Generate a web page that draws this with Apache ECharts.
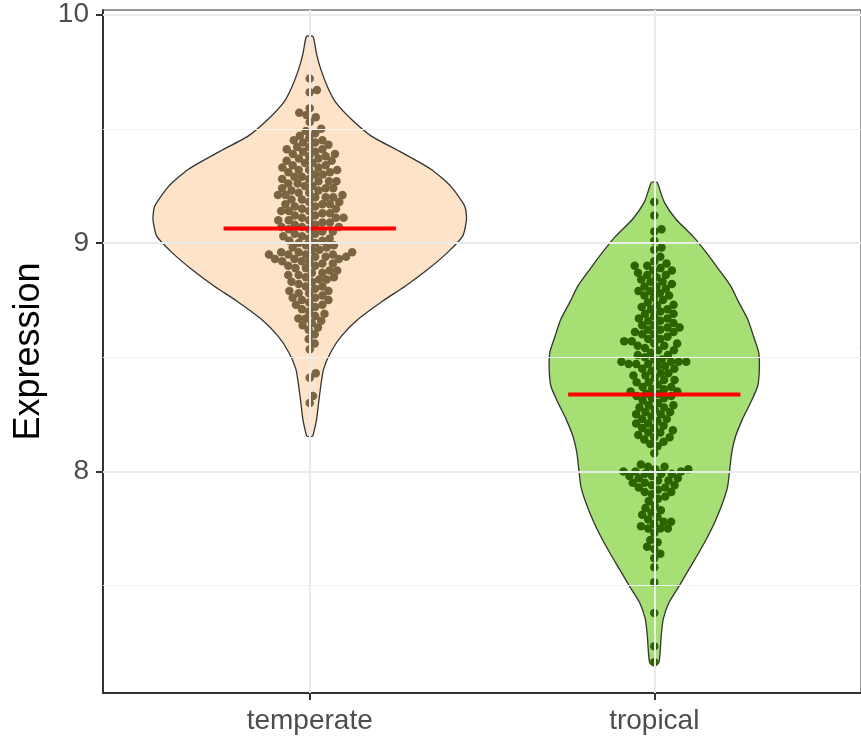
<!DOCTYPE html>
<html><head><meta charset="utf-8">
<script src="https://cdn.jsdelivr.net/npm/echarts@6/dist/echarts.min.js"></script>
<style>html,body{margin:0;padding:0;background:#fff}#c{width:861px;height:742px}</style>
</head><body><div id="c"></div>
<script>
// ---------------- data ----------------
const categories = ['temperate', 'tropical'];
const meanValues = [9.063, 8.337];

const temperateValues = [
  9.72, 9.67, 9.66, 9.59, 9.57, 9.56, 9.55, 9.53, 9.50, 9.45,
  9.49, 9.48, 9.47, 9.46, 9.45, 9.44, 9.44, 9.43, 9.42, 9.42, 9.41, 9.41, 9.40, 9.40,
  9.39, 9.39, 9.38, 9.38, 9.37, 9.37, 9.36, 9.36, 9.35, 9.35, 9.34, 9.34, 9.33, 9.33, 9.32, 9.32, 9.32, 9.31, 9.31, 9.30, 9.30, 9.29,
  9.29, 9.28, 9.28, 9.27, 9.27, 9.27, 9.26, 9.26, 9.25, 9.25, 9.24, 9.24, 9.24, 9.23, 9.23, 9.22, 9.22, 9.21, 9.21, 9.21, 9.20, 9.20, 9.20, 9.19, 9.19,
  9.18, 9.18, 9.17, 9.17, 9.17, 9.16, 9.16, 9.15, 9.15, 9.14, 9.14, 9.14, 9.13, 9.13, 9.12, 9.12, 9.11, 9.11, 9.11, 9.10, 9.10, 9.10, 9.09, 9.09,
  9.08, 9.08, 9.07, 9.07, 9.07, 9.06, 9.06, 9.05, 9.05, 9.04, 9.04, 9.03, 9.03, 9.02, 9.02, 9.01, 9.01, 9.00, 9.00, 8.99, 8.99,
  8.98, 8.98, 8.97, 8.97, 8.96, 8.96, 8.96, 8.95, 8.95, 8.95, 8.95, 8.94, 8.94, 8.94, 8.93, 8.93, 8.93, 8.92, 8.92, 8.92, 8.91, 8.91, 8.90, 8.90,
  8.89, 8.89, 8.88, 8.88, 8.87, 8.87, 8.86, 8.86, 8.85, 8.85, 8.84, 8.84, 8.83, 8.83, 8.82, 8.81, 8.81, 8.80,
  8.79, 8.79, 8.78, 8.78, 8.77, 8.76, 8.76, 8.75, 8.75, 8.74, 8.73, 8.73, 8.72, 8.71,
  8.70, 8.69, 8.68, 8.67, 8.67, 8.66, 8.65, 8.64, 8.63, 8.62,
  8.60, 8.58, 8.56, 8.535, 8.43, 8.41, 8.33, 8.30
];

const tropicalValues = [
  9.18, 9.12, 9.06, 9.05, 9.01, 8.98, 8.97, 8.94,
  8.92, 8.91, 8.90, 8.90, 8.89, 8.88, 8.88, 8.87, 8.86, 8.86, 8.85, 8.84, 8.83, 8.83, 8.82, 8.81, 8.81, 8.80, 8.79, 8.79, 8.78, 8.77, 8.77, 8.76, 8.75, 8.74,
  8.73, 8.73, 8.72, 8.71, 8.71, 8.70, 8.69, 8.69, 8.68, 8.67, 8.67, 8.66, 8.66, 8.65, 8.64, 8.64, 8.63, 8.63, 8.62, 8.62, 8.61, 8.61, 8.60, 8.60, 8.59,
  8.58, 8.58, 8.57, 8.57, 8.56, 8.56, 8.55, 8.55, 8.54, 8.53, 8.53, 8.52, 8.51, 8.51, 8.50, 8.49, 8.49, 8.48, 8.48, 8.48, 8.48, 8.47, 8.47, 8.47, 8.46, 8.46, 8.45, 8.45,
  8.44, 8.43, 8.43, 8.42, 8.42, 8.41, 8.40, 8.40, 8.39, 8.39, 8.38, 8.37, 8.37, 8.36, 8.36, 8.35, 8.35, 8.34, 8.34, 8.33, 8.33, 8.32, 8.32, 8.31, 8.30,
  8.29, 8.29, 8.28, 8.28, 8.27, 8.26, 8.26, 8.25, 8.25, 8.24, 8.23, 8.23, 8.22, 8.21, 8.21, 8.20, 8.19, 8.19, 8.18, 8.17, 8.17, 8.16, 8.15, 8.15, 8.14, 8.13, 8.12, 8.11,
  8.08,
  8.03, 8.02, 8.02, 8.01, 8.01, 8.00, 8.00, 8.00, 7.99, 7.99, 7.99, 7.98, 7.98, 7.97, 7.97, 7.96, 7.96, 7.95, 7.95, 7.94, 7.94, 7.93, 7.93, 7.92, 7.91, 7.91, 7.90, 7.89, 7.88, 7.87,
  7.85, 7.84, 7.83, 7.82, 7.81, 7.80, 7.79, 7.78, 7.78, 7.77, 7.76, 7.75, 7.75, 7.75, 7.73,
  7.70, 7.69, 7.67, 7.66, 7.64, 7.62,
  7.58, 7.515, 7.38, 7.235, 7.165
];

// violin outline: value levels (top to bottom) and half-width (x units)
const temperateLevels = [9.906, 9.893, 9.827, 9.761, 9.682, 9.617, 9.542, 9.468, 9.398, 9.323, 9.249, 9.161, 9.104, 9.030, 8.960, 8.885, 8.811, 8.741, 8.667, 8.592, 8.522, 8.447, 8.373, 8.303, 8.229, 8.172, 8.154];
const temperateHalfWidths = [0.008, 0.012, 0.020, 0.032, 0.052, 0.075, 0.121, 0.179, 0.265, 0.352, 0.409, 0.450, 0.455, 0.444, 0.401, 0.343, 0.277, 0.207, 0.141, 0.092, 0.061, 0.040, 0.032, 0.026, 0.020, 0.012, 0.008];
const tropicalLevels = [9.266, 9.253, 9.179, 9.104, 9.030, 8.960, 8.885, 8.811, 8.741, 8.667, 8.592, 8.522, 8.447, 8.373, 8.303, 8.229, 8.154, 8.084, 8.009, 7.935, 7.865, 7.790, 7.717, 7.646, 7.572, 7.498, 7.427, 7.353, 7.278, 7.208, 7.168, 7.155];
const tropicalHalfWidths = [0.008, 0.012, 0.029, 0.063, 0.112, 0.150, 0.187, 0.222, 0.245, 0.271, 0.288, 0.303, 0.305, 0.300, 0.280, 0.256, 0.236, 0.225, 0.219, 0.213, 0.199, 0.179, 0.156, 0.130, 0.101, 0.072, 0.043, 0.026, 0.020, 0.017, 0.014, 0.008];

const yTickValues = [8, 9, 10];
const yMinorGrid = [7.5, 8.5, 9.5];
const xTickValues = [1, 2];

// ---------------- styles / layout ----------------
const GRID = { left: 103, top: 10, width: 763, height: 683 };
const X_MIN = 0.4, X_MAX = 2.6, Y_MIN = 7.03, Y_MAX = 10.02;
const violinFill = ['#fde4c8', '#a6e074'];
const dotColor = ['#7b6541', '#2c6500'];
const DOT = 8.5, DOT_GAP = 7.6, MEAN_HALF = 0.25;

const groups = [
  { values: temperateValues, levels: temperateLevels, hw: temperateHalfWidths },
  { values: tropicalValues, levels: tropicalLevels, hw: tropicalHalfWidths }
];

// beeswarm layout (pixel space)
const xPx = GRID.width / (X_MAX - X_MIN);
const yPx = GRID.height / (Y_MAX - Y_MIN);
function swarm(values, center) {
  const sorted = values.slice().sort((a, b) => a - b);
  const placed = [];
  const out = [];
  for (const v of sorted) {
    const py = v * yPx;
    const cand = [0];
    for (const p of placed) {
      const dy = Math.abs(p.y - py);
      if (dy < DOT_GAP) {
        const dx = Math.sqrt(DOT_GAP * DOT_GAP - dy * dy);
        cand.push(p.x + dx, p.x - dx);
      }
    }
    cand.sort((a, b) => Math.abs(a) - Math.abs(b));
    let chosen = 0;
    for (const c of cand) {
      let ok = true;
      for (const p of placed) {
        const dx = p.x - c, dy = p.y - py;
        if (dx * dx + dy * dy < DOT_GAP * DOT_GAP - 0.01) { ok = false; break; }
      }
      if (ok) { chosen = c; break; }
    }
    placed.push({ x: chosen, y: py });
    out.push([center + chosen / xPx, v]);
  }
  return out;
}

const chart = echarts.init(document.getElementById('c'), null, { renderer: 'canvas' });
const FONT = 'Liberation Sans, Arial, sans-serif';

const series = [];
// gridlines
series.push({
  type: 'line', data: [], z: 0, silent: true,
  markLine: {
    silent: true, symbol: ['none', 'none'], label: { show: false }, animation: false,
    data: [
      ...yMinorGrid.map(v => ({ yAxis: v, lineStyle: { color: '#f2f2f2', width: 1, type: 'solid' } })),
      ...yTickValues.map(v => ({ yAxis: v, lineStyle: { color: '#ebebeb', width: 2, type: 'solid' } })),
      ...xTickValues.map(v => ({ xAxis: v, lineStyle: { color: '#ebebeb', width: 2, type: 'solid' } }))
    ]
  }
});
// violins
series.push({
  type: 'custom', z: 2, silent: true,
  data: categories.map((c, i) => [xTickValues[i], meanValues[i]]),
  renderItem: function (params, api) {
    const i = params.dataIndex;
    const g = groups[i];
    const cx = xTickValues[i];
    const right = g.levels.map((v, k) => api.coord([cx + g.hw[k], v]));
    const left = g.levels.map((v, k) => api.coord([cx - g.hw[k], v])).reverse();
    return {
      type: 'polygon',
      shape: { points: right.concat(left), smooth: 0.2 },
      style: { fill: violinFill[i], stroke: '#333333', lineWidth: 1.3 }
    };
  }
});
// dots
groups.forEach((g, i) => {
  series.push({
    type: 'scatter', z: 3, silent: true,
    symbol: 'circle', symbolSize: DOT,
    itemStyle: { color: dotColor[i], opacity: 1 },
    data: swarm(g.values, xTickValues[i])
  });
});
// mean lines
series.push({
  type: 'custom', z: 4, silent: true,
  data: categories.map((c, i) => [xTickValues[i], meanValues[i]]),
  renderItem: function (params, api) {
    const x = api.value(0), y = api.value(1);
    const p1 = api.coord([x - MEAN_HALF, y]);
    const p2 = api.coord([x + MEAN_HALF, y]);
    return {
      type: 'line',
      shape: { x1: p1[0], y1: p1[1], x2: p2[0], y2: p2[1] },
      style: { stroke: '#ff0000', lineWidth: 4 }
    };
  }
});

chart.setOption({
  animation: false,
  backgroundColor: '#ffffff',
  grid: Object.assign({ show: true, borderColor: '#333333', borderWidth: 1, backgroundColor: 'transparent', containLabel: false }, GRID),
  xAxis: {
    type: 'value', min: X_MIN, max: X_MAX,
    axisLine: { show: true, onZero: false, lineStyle: { color: '#333333', width: 2 } },
    axisTick: { show: true, customValues: xTickValues, length: 7, lineStyle: { color: '#333333', width: 2 } },
    axisLabel: { customValues: xTickValues, formatter: v => categories[xTickValues.indexOf(Math.round(v))], fontSize: 28, color: '#4d4d4d', margin: 14, fontFamily: FONT },
    splitLine: { show: false }
  },
  yAxis: {
    type: 'value', min: Y_MIN, max: Y_MAX,
    name: 'Expression', nameLocation: 'middle', nameGap: 55, nameRotate: 90,
    nameTextStyle: { fontSize: 36, color: '#000000', fontFamily: FONT },
    axisLine: { show: true, onZero: false, lineStyle: { color: '#333333', width: 2 } },
    axisTick: { show: true, customValues: yTickValues, length: 7, lineStyle: { color: '#333333', width: 2 } },
    axisLabel: { customValues: yTickValues, fontSize: 28, color: '#4d4d4d', margin: 14, fontFamily: FONT },
    splitLine: { show: false }
  },
  series: series
});
</script></body></html>
